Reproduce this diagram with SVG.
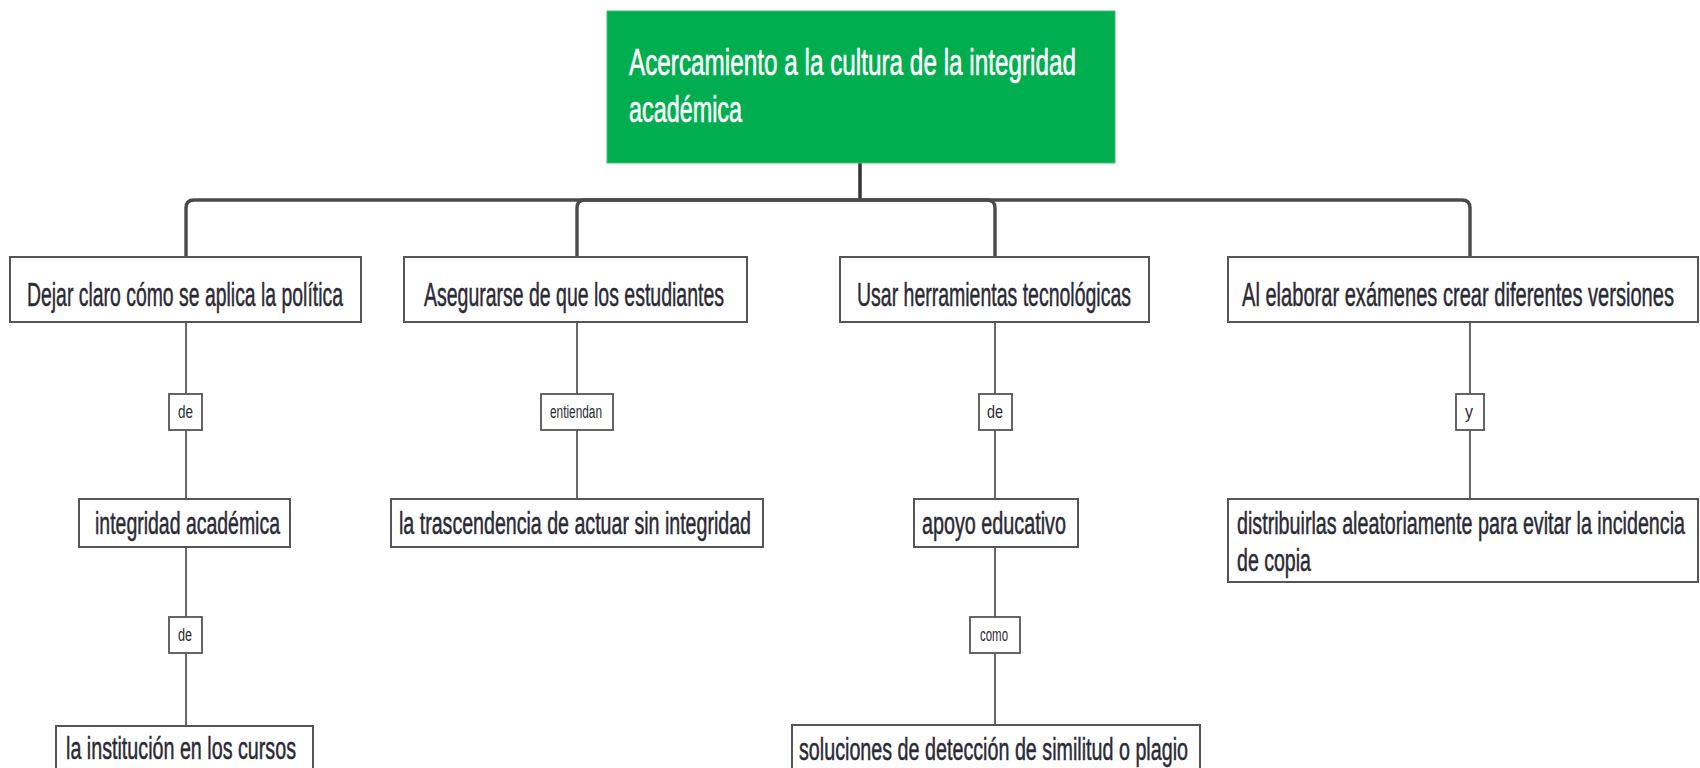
<svg xmlns="http://www.w3.org/2000/svg" width="1700" height="768" viewBox="0 0 1700 768">
<style>
.bg{fill:#ffffff}
.root{fill:#00AE50;stroke:#3fbf74;stroke-width:1}
.box{fill:#ffffff;stroke:#555555;stroke-width:2}
.lbl{fill:#ffffff;stroke:#555555;stroke-width:1.8}
.rt{font-family:"Liberation Sans",Arial,sans-serif;font-size:37px;fill:#ffffff;stroke:#ffffff;stroke-width:0.6}
.t1{font-family:"Liberation Sans",Arial,sans-serif;font-size:34px;fill:#2a2a36;stroke:#2a2a36;stroke-width:0.5}
.t2{font-family:"Liberation Sans",Arial,sans-serif;font-size:31px;fill:#2a2a36;stroke:#2a2a36;stroke-width:0.5}
.tl{font-family:"Liberation Sans",Arial,sans-serif;font-size:18px;fill:#2a2a36}
.bus{fill:none;stroke:#4a4a4a;stroke-width:3.4;stroke-linecap:butt}
.trunk{fill:none;stroke:#333333;stroke-width:3.5}
.thin{fill:none;stroke:#444444;stroke-width:1.6}
</style>
<rect class="bg" x="0" y="0" width="1700" height="768"/>
<g id="connectors">
<path class="trunk" d="M860,163 V200"/>
<path class="bus" d="M860,200 H194 Q186,200 186,208 V257"/>
<path class="bus" d="M860,200 H585 Q577,200 577,208 V257"/>
<path class="bus" d="M860,200 H987 Q995,200 995,208 V257"/>
<path class="bus" d="M860,200 H1462 Q1470,200 1470,208 V257"/>
<path class="thin" d="M186,322 V394 M186,430 V499 M186,547 V617 M186,653 V726"/>
<path class="thin" d="M577,322 V394 M577,430 V499"/>
<path class="thin" d="M995,322 V394 M995,430 V499 M995,547 V617 M995,653 V725"/>
<path class="thin" d="M1470,322 V394 M1470,430 V499"/>
</g>
<g id="root">
<rect class="root" x="607" y="11" width="508" height="152"/>
<text class="rt" x="629" y="75" textLength="447" lengthAdjust="spacingAndGlyphs">Acercamiento a la cultura de la integridad</text>
<text class="rt" x="629" y="122" textLength="113" lengthAdjust="spacingAndGlyphs">académica</text>
</g>
<g id="n1">
<rect class="box" x="10" y="257" width="351" height="65"/>
<text class="t1" x="27" y="306" textLength="316" lengthAdjust="spacingAndGlyphs">Dejar claro cómo se aplica la política</text>
</g>
<g id="n2">
<rect class="box" x="404" y="257" width="343" height="65"/>
<text class="t1" x="424" y="306" textLength="300" lengthAdjust="spacingAndGlyphs">Asegurarse de que los estudiantes</text>
</g>
<g id="n3">
<rect class="box" x="840" y="257" width="309" height="65"/>
<text class="t1" x="857" y="306" textLength="274" lengthAdjust="spacingAndGlyphs">Usar herramientas tecnológicas</text>
</g>
<g id="n4">
<rect class="box" x="1228" y="257" width="470" height="65"/>
<text class="t1" x="1242" y="306" textLength="432" lengthAdjust="spacingAndGlyphs">Al elaborar exámenes crear diferentes versiones</text>
</g>
<g id="l1">
<rect class="lbl" x="169" y="394" width="33" height="36"/>
<text class="tl" x="178" y="418" textLength="15" lengthAdjust="spacingAndGlyphs">de</text>
</g>
<g id="l2">
<rect class="lbl" x="541" y="394" width="72" height="36"/>
<text class="tl" x="550" y="418" textLength="52" lengthAdjust="spacingAndGlyphs">entiendan</text>
</g>
<g id="l3">
<rect class="lbl" x="979" y="394" width="33" height="36"/>
<text class="tl" x="987" y="418" textLength="16" lengthAdjust="spacingAndGlyphs">de</text>
</g>
<g id="l4">
<rect class="lbl" x="1456" y="394" width="28" height="36"/>
<text class="tl" x="1465" y="418" textLength="8" lengthAdjust="spacingAndGlyphs">y</text>
</g>
<g id="n5">
<rect class="box" x="79" y="499" width="211" height="48"/>
<text class="t2" x="95" y="534" textLength="185" lengthAdjust="spacingAndGlyphs">integridad académica</text>
</g>
<g id="n6">
<rect class="box" x="391" y="499" width="372" height="48"/>
<text class="t2" x="399" y="534" textLength="352" lengthAdjust="spacingAndGlyphs">la trascendencia de actuar sin integridad</text>
</g>
<g id="n7">
<rect class="box" x="914" y="499" width="164" height="48"/>
<text class="t2" x="922" y="534" textLength="144" lengthAdjust="spacingAndGlyphs">apoyo educativo</text>
</g>
<g id="n8">
<rect class="box" x="1228" y="499" width="470" height="83"/>
<text class="t2" x="1237" y="534" textLength="448" lengthAdjust="spacingAndGlyphs">distribuirlas aleatoriamente para evitar la incidencia</text>
<text class="t2" x="1237" y="571" textLength="74" lengthAdjust="spacingAndGlyphs">de copia</text>
</g>
<g id="l5">
<rect class="lbl" x="169" y="617" width="33" height="36"/>
<text class="tl" x="178" y="641" textLength="14" lengthAdjust="spacingAndGlyphs">de</text>
</g>
<g id="l6">
<rect class="lbl" x="970" y="617" width="50" height="36"/>
<text class="tl" x="980" y="641" textLength="28" lengthAdjust="spacingAndGlyphs">como</text>
</g>
<g id="n9">
<rect class="box" x="56" y="726" width="257" height="48"/>
<text class="t2" x="66" y="759" textLength="230" lengthAdjust="spacingAndGlyphs">la institución en los cursos</text>
</g>
<g id="n10">
<rect class="box" x="792" y="725" width="408" height="48"/>
<text class="t2" x="799" y="760" textLength="389" lengthAdjust="spacingAndGlyphs">soluciones de detección de similitud o plagio</text>
</g>
</svg>
